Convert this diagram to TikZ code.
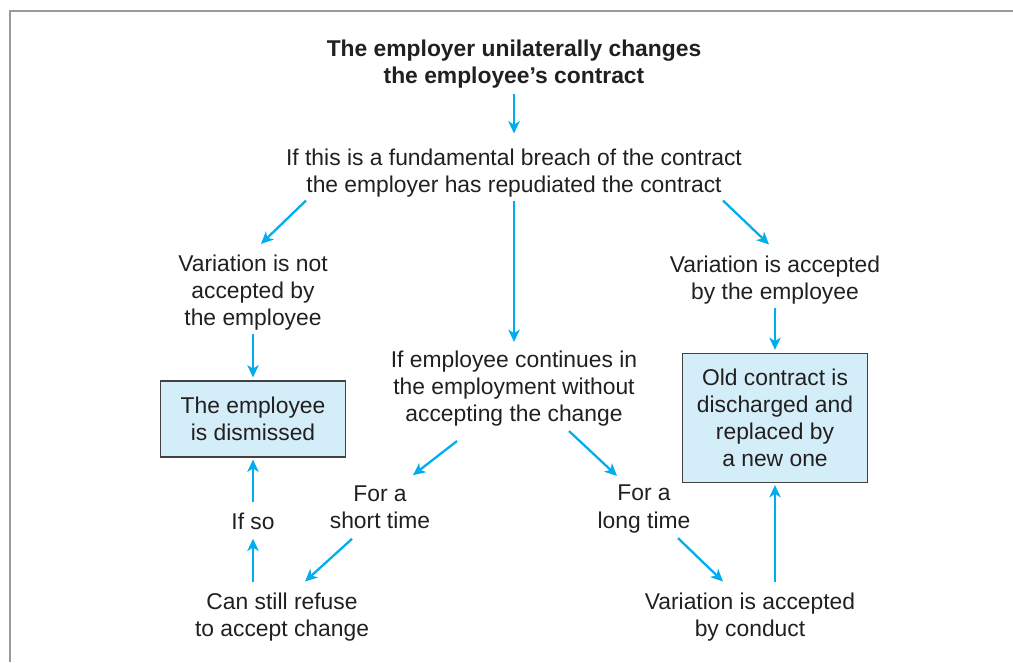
\documentclass[tikz,border=0pt]{standalone}
\usepackage{fontspec}
\setmainfont{Liberation Sans}
\usepackage{tikz}
\usetikzlibrary{arrows.meta}
\usepackage{xcolor}
\definecolor{arrowblue}{HTML}{00AEEF}
\definecolor{boxblue}{HTML}{D4EEF9}
\definecolor{inkgray}{HTML}{231F20}
\definecolor{framegray}{HTML}{9A9A9A}

\begin{document}
\begin{tikzpicture}[x=0.02cm,y=-0.02cm,
  every node/.style={font=\fontsize{13}{15.4}\selectfont,text=inkgray,align=center,inner sep=0pt},
  result/.style={draw=inkgray!85,fill=boxblue,line width=0.7pt},
  arr/.style={draw=arrowblue,line width=1.3pt,-{Stealth[length=7pt,width=6.5pt,inset=2pt]}}]
\useasboundingbox (0,0) rectangle (1013,662);
\draw[framegray,line width=1.2pt] (10,662) -- (10,11) -- (1013,11);
\node[font=\fontsize{13}{15.4}\selectfont\bfseries] (title) at (514,64) {The employer unilaterally changes\\the employee’s contract};
\node (breach) at (514,173) {If this is a fundamental breach of the contract\\the employer has repudiated the contract};
\node (notacc) at (253,293) {Variation is not\\accepted by\\the employee};
\node (acc) at (775,280) {Variation is accepted\\by the employee};
\node[result,minimum width=3.7cm,minimum height=1.52cm] (dismissed) at (253,419) {The employee\\is dismissed};
\node[result,minimum width=3.7cm,minimum height=2.58cm] (old) at (775,418) {Old contract is\\discharged and\\replaced by\\a new one};
\node (continues) at (514,389) {If employee continues in\\the employment without\\accepting the change};
\node (short) at (380,507) {For a\\short time};
\node (long) at (644,509) {For a\\long time};
\node (ifso) at (253,521) {If so};
\node (refuse) at (282,617) {Can still refuse\\to accept change};
\node (conduct) at (750,617) {Variation is accepted\\by conduct};
\draw[arr] ([shift={(0,5)}]title.south) -- ([shift={(0,-15)}]breach.north);
\draw[arr] ([shift={(-208,3)}]breach.south) -- ([shift={(8,-11)}]notacc.north);
\draw[arr] ([shift={(0,3)}]breach.south) -- ([shift={(0,-9)}]continues.north);
\draw[arr] ([shift={(209,3)}]breach.south) -- ([shift={(-6,-11)}]acc.north);
\draw[arr] ([shift={(0,3)}]notacc.south) -- ([shift={(0,-3)}]dismissed.north);
\draw[arr] ([shift={(0,3)}]acc.south) -- ([shift={(0,-3)}]old.north);
\draw[arr] ([shift={(-57,14)}]continues.south) -- ([shift={(33,-10)}]short.north);
\draw[arr] ([shift={(55,4)}]continues.south) -- ([shift={(-27,-9)}]long.north);
\draw[arr] ([shift={(-28,10)}]short.south) -- ([shift={(23,-11)}]refuse.north);
\draw[arr] ([shift={(34,5)}]long.south) -- ([shift={(-27,-11)}]conduct.north);
\draw[arr] ([shift={(-29,-10)}]refuse.north) -- ([shift={(0,9)}]ifso.south);
\draw[arr] ([shift={(0,-10)}]ifso.north) -- ([shift={(0,2)}]dismissed.south);
\draw[arr] ([shift={(25,-10)}]conduct.north) -- ([shift={(0,2)}]old.south);
\end{tikzpicture}
\end{document}
